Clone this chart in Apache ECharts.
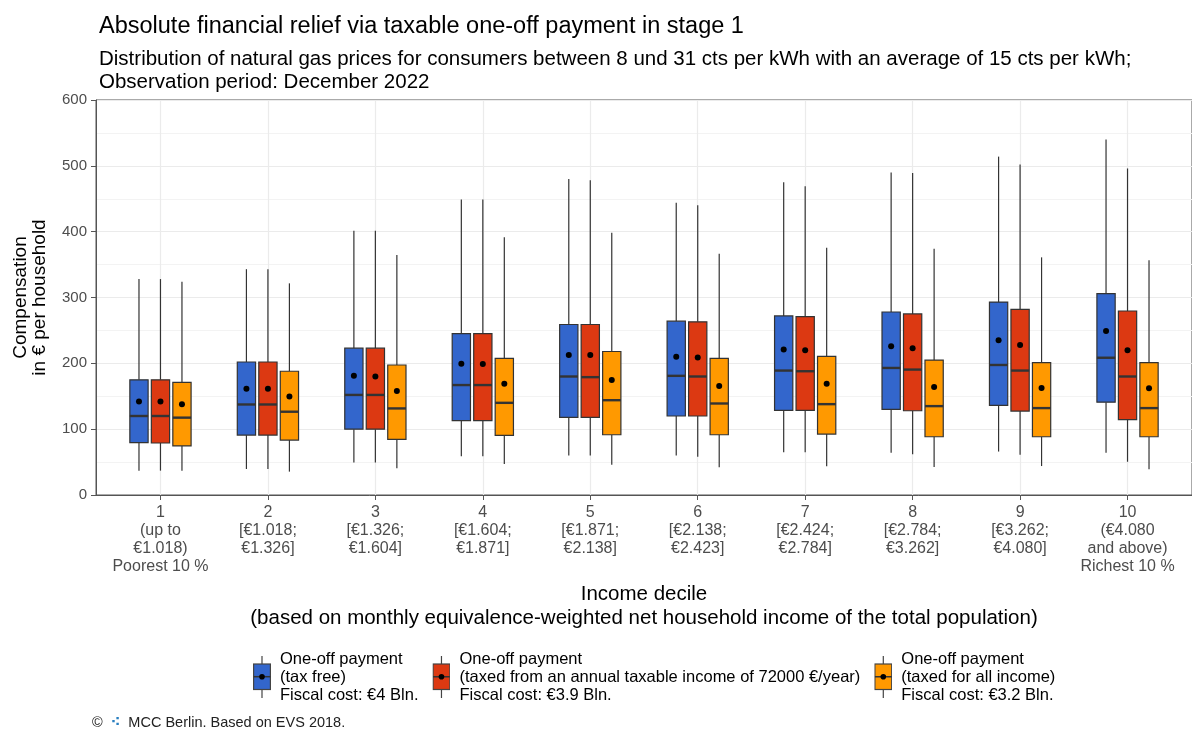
<!DOCTYPE html>
<html>
<head>
<meta charset="utf-8">
<script src="https://cdn.jsdelivr.net/npm/echarts@6/dist/echarts.min.js"></script>
<style>
  html, body { margin: 0; padding: 0; background: #fff; }
  #chart { width: 1192px; height: 731px; }
</style>
</head>
<body>
<div id="chart"></div>
<script>
// Income deciles and their tick labels
const deciles = [1, 2, 3, 4, 5, 6, 7, 8, 9, 10];
const decileLabels = [
  '1\n(up to\n€1.018)\nPoorest 10 %',
  '2\n[€1.018;\n€1.326]',
  '3\n[€1.326;\n€1.604]',
  '4\n[€1.604;\n€1.871]',
  '5\n[€1.871;\n€2.138]',
  '6\n[€2.138;\n€2.423]',
  '7\n[€2.424;\n€2.784]',
  '8\n[€2.784;\n€3.262]',
  '9\n[€3.262;\n€4.080]',
  '10\n(€4.080\nand above)\nRichest 10 %'
];

// Box statistics per decile: [lower whisker, Q1, median, Q3, upper whisker, mean]
const taxFree = [
  [37, 79.5, 120, 175, 328, 142],
  [39.5, 91, 137.5, 202, 343, 161.5],
  [49.5, 100, 152, 223, 401.5, 181],
  [59, 113, 167, 245, 449, 199.5],
  [60, 118, 180, 259, 480, 212.5],
  [60, 120, 181, 264, 444, 210],
  [65, 128.5, 189, 272, 475, 221],
  [64, 130, 193, 278, 490, 226],
  [66, 136, 197.5, 293, 514, 235],
  [64, 141, 208.5, 306, 540, 249]
];
const taxedAbove72k = [
  [37, 79, 120, 175, 328, 142],
  [39.5, 91, 137.5, 202, 343, 161.5],
  [49.5, 100, 152, 223, 401.5, 180],
  [59, 113, 167, 245, 449, 199],
  [60, 118, 179, 259, 478, 212.5],
  [58, 120, 180, 263, 440, 209],
  [65, 128.5, 188, 271, 469, 220],
  [62, 128, 190.5, 275, 489, 223],
  [61, 127.5, 189, 282, 502, 228],
  [50.5, 114.5, 180, 279.5, 496, 220]
];
const taxedAllIncome = [
  [37, 74.5, 117.5, 171, 324, 138],
  [35.5, 83.5, 126.5, 188, 321.5, 149.5],
  [40.5, 84.5, 131.5, 197.5, 364.5, 158],
  [47, 90.5, 140, 207.5, 391.5, 169],
  [46, 91.5, 144, 218, 398.5, 174.5],
  [42, 91.5, 139, 207.5, 366.5, 165.5],
  [43.5, 92.5, 138, 210.5, 375.5, 169],
  [42.5, 88.5, 135, 205, 374, 164],
  [44, 88.5, 132, 201, 361, 162.5],
  [39, 88.5, 132, 201, 356.5, 162]
];

const seriesNames = [
  'One-off payment\n(tax free)\nFiscal cost: €4 Bln.',
  'One-off payment\n(taxed from an annual taxable income of 72000 €/year)\nFiscal cost: €3.9 Bln.',
  'One-off payment\n(taxed for all income)\nFiscal cost: €3.2 Bln.'
];
const seriesColors = ['#3366CC', '#DC3912', '#FF9900'];

const FONT = 'Liberation Sans, Arial, sans-serif';
const DODGE = 0.2;      // horizontal offset between neighbouring boxes (category units)
const BOX_WIDTH = 0.17; // box width (category units)
const LINE = '#333333';

function legendIcon(color) {
  const svg =
    '<svg xmlns="http://www.w3.org/2000/svg" width="18" height="42" viewBox="0 0 18 42">' +
    '<line x1="9" y1="0" x2="9" y2="42" stroke="#444" stroke-width="1.2"/>' +
    '<rect x="0.6" y="8" width="16.8" height="25.5" fill="' + color + '" stroke="#444" stroke-width="1.2"/>' +
    '<line x1="0.6" y1="20.7" x2="17.4" y2="20.7" stroke="#333" stroke-width="1.5"/>' +
    '<circle cx="9" cy="20.7" r="2.8" fill="#000"/>' +
    '</svg>';
  return 'image://data:image/svg+xml;charset=utf-8,' + encodeURIComponent(svg);
}

function boxRenderer(offset, color) {
  return function (params, api) {
    const x = api.value(0) + offset;
    const lo = api.coord([x, api.value(1)]);
    const q1 = api.coord([x, api.value(2)]);
    const md = api.coord([x, api.value(3)]);
    const q3 = api.coord([x, api.value(4)]);
    const hi = api.coord([x, api.value(5)]);
    const mn = api.coord([x, api.value(6)]);
    const half = api.size([BOX_WIDTH, 0])[0] / 2;
    const whisker = { stroke: LINE, lineWidth: 1.2 };
    return {
      type: 'group',
      children: [
        { type: 'line', shape: { x1: hi[0], y1: hi[1], x2: q3[0], y2: q3[1] }, style: whisker },
        { type: 'line', shape: { x1: q1[0], y1: q1[1], x2: lo[0], y2: lo[1] }, style: whisker },
        { type: 'rect', shape: { x: q3[0] - half, y: q3[1], width: half * 2, height: q1[1] - q3[1] },
          style: { fill: color, stroke: LINE, lineWidth: 1.2 } },
        { type: 'line', shape: { x1: md[0] - half, y1: md[1], x2: md[0] + half, y2: md[1] },
          style: { stroke: LINE, lineWidth: 2.4 } },
        { type: 'circle', shape: { cx: mn[0], cy: mn[1], r: 3 }, style: { fill: '#000' } }
      ]
    };
  };
}

function toRows(stats) {
  return stats.map((s, i) => [deciles[i]].concat(s));
}

const statSets = [taxFree, taxedAbove72k, taxedAllIncome];
const series = statSets.map((stats, k) => ({
  type: 'custom',
  name: seriesNames[k],
  color: seriesColors[k],
  renderItem: boxRenderer((k - 1) * DODGE, seriesColors[k]),
  encode: { x: 0, y: [1, 2, 3, 4, 5, 6] },
  data: toRows(stats),
  z: 3
}));

const chart = echarts.init(document.getElementById('chart'), null, { renderer: 'canvas' });
chart.setOption({
  animation: false,
  backgroundColor: '#ffffff',
  textStyle: { fontFamily: FONT },
  title: [
    {
      text: 'Absolute financial relief via taxable one-off payment in stage 1',
      left: 94, top: 10,
      textStyle: { fontFamily: FONT, fontSize: 23.5, fontWeight: 'normal', color: '#000' }
    },
    {
      text: 'Distribution of natural gas prices for consumers between 8 und 31 cts per kWh with an average of 15 cts per kWh;\nObservation period: December 2022',
      left: 94, top: 43,
      textStyle: { fontFamily: FONT, fontSize: 20.5, fontWeight: 'normal', color: '#000', lineHeight: 23 }
    },
    {
      text: '{c|©}  {logo|⁖}  MCC Berlin. Based on EVS 2018.',
      left: 87, top: 710,
      textStyle: {
        fontFamily: FONT, fontSize: 14.5, fontWeight: 'normal', color: '#222',
        rich: {
          c: { fontFamily: FONT, fontSize: 14.5, color: '#222' },
          logo: { fontFamily: 'DejaVu Sans', fontSize: 14, color: '#2a7fc0', fontWeight: 'bold' }
        }
      }
    }
  ],
  legend: {
    left: 248, top: 645,
    orient: 'horizontal',
    itemWidth: 18, itemHeight: 42,
    itemGap: 14,
    selectedMode: false,
    data: seriesNames.map((n, k) => ({ name: n, icon: legendIcon(seriesColors[k]) })),
    textStyle: { fontFamily: FONT, fontSize: 16.5, color: '#000', lineHeight: 18, padding: [0, 0, 0, 4] }
  },
  grid: {
    left: 96, top: 100, width: 1102, height: 395,
    show: true, borderColor: '#555', borderWidth: 1,
    containLabel: false
  },
  xAxis: {
    type: 'value',
    min: 0.4, max: 10.6,
    name: 'Income decile\n(based on monthly equivalence-weighted net household income of the total population)',
    nameLocation: 'middle', nameGap: 87, nameMoveOverlap: false,
    nameTextStyle: { fontFamily: FONT, fontSize: 20.5, color: '#000', lineHeight: 24 },
    axisLine: { show: true, onZero: false, lineStyle: { color: '#555', width: 1 } },
    axisTick: { show: true, length: 5, customValues: deciles, lineStyle: { color: '#555' } },
    axisLabel: {
      customValues: deciles,
      formatter: v => decileLabels[Math.round(v) - 1],
      fontFamily: FONT, fontSize: 16, color: '#4d4d4d', lineHeight: 18, margin: 9
    },
    splitLine: { show: true, lineStyle: { color: '#ebebeb', width: 1.2 } },
    minorSplitLine: { show: false }
  },
  yAxis: {
    type: 'value',
    min: 0, max: 600, interval: 100,
    name: 'Compensation\nin € per household',
    nameLocation: 'middle', nameGap: 46, nameRotate: 90, nameMoveOverlap: false,
    nameTextStyle: { fontFamily: FONT, fontSize: 19, color: '#000', lineHeight: 19.5 },
    axisLine: { show: true, lineStyle: { color: '#555', width: 1 } },
    axisTick: { show: true, length: 5, lineStyle: { color: '#555' } },
    axisLabel: { fontFamily: FONT, fontSize: 15, color: '#4d4d4d', margin: 9 },
    splitLine: { show: true, lineStyle: { color: '#ebebeb', width: 1.2 } },
    minorTick: { show: false, splitNumber: 2 },
    minorSplitLine: { show: true, lineStyle: { color: '#f3f3f3', width: 1 } }
  },
  series: series
});
</script>
</body>
</html>
